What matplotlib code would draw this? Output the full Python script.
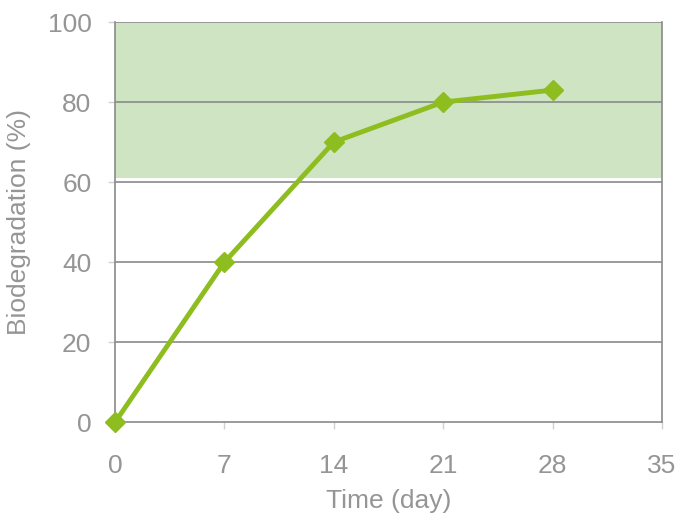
import numpy as np
import matplotlib
matplotlib.use('Agg')
import matplotlib.pyplot as plt

plt.rcParams['font.family'] = ['Liberation Sans', 'DejaVu Sans']

LINE_COLOR = '#8dbd1e'
SHADE_COLOR = '#cfe4c2'
GRID_COLOR = '#8a8a8a'
TEXT_COLOR = '#959595'

days = [0, 7, 14, 21, 28]
biodeg = [0, 40, 70, 80, 83]
x_ticks = [0, 7, 14, 21, 28, 35]
y_ticks = [0, 20, 40, 60, 80, 100]
pass_level = 61

fig = plt.figure(figsize=(6.81, 5.13), dpi=100)
ax = fig.add_axes([0.169, 0.177, 0.803, 0.780])

ax.axhspan(pass_level, 100, color=SHADE_COLOR, zorder=0, lw=0)
for y in y_ticks[1:]:
    ax.axhline(y, color=GRID_COLOR, lw=1.2, zorder=1)

ax.plot(days, biodeg, color=LINE_COLOR, lw=3.5, marker='D', ms=10,
        mfc=LINE_COLOR, mec=LINE_COLOR, zorder=3, clip_on=False)

ax.set_xlim(0, 35)
ax.set_ylim(0, 100)
ax.set_xticks(x_ticks)
ax.set_yticks(y_ticks)
for side in ['left', 'right', 'bottom', 'top']:
    ax.spines[side].set_color(GRID_COLOR)
    ax.spines[side].set_linewidth(1.2)
ax.spines['top'].set_visible(False)

ax.tick_params(axis='both', colors='#d0d0d0', labelcolor=TEXT_COLOR,
               labelsize=19, length=5, width=1, direction='out')
ax.tick_params(axis='y', pad=12)
ax.tick_params(axis='x', pad=18)
ax.set_xlabel('Time (day)', fontsize=19, color=TEXT_COLOR, labelpad=8)
ax.set_ylabel('Biodegradation (%)', fontsize=19, color=TEXT_COLOR, labelpad=12)

fig.savefig('out.png', dpi=100)
